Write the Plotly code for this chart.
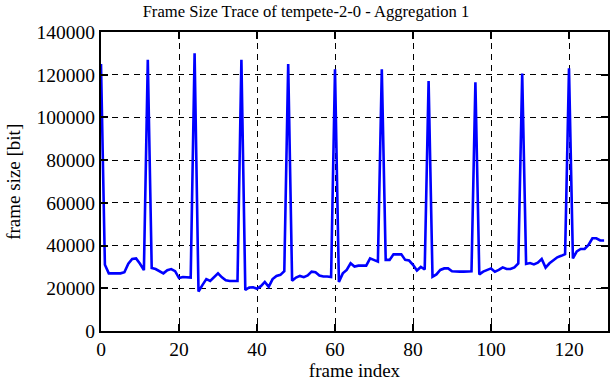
import plotly.graph_objects as go

frame_index = list(range(130))
frame_size_bits = [
    125000, 31000, 27000, 27000, 27000, 27000, 27500, 31500, 33700, 34000,
    31500, 28500, 127000, 29500, 29000, 28000, 27000, 28500, 29000, 28000,
    24800, 25300, 25300, 25000, 130000, 18500, 21500, 24300, 23400, 25000,
    27000, 25100, 23700, 23400, 23400, 23400, 127000, 19200, 20400, 20500,
    19800, 21000, 23000, 20700, 24300, 25800, 26300, 28000, 125000, 23500,
    25000, 25800, 25200, 26000, 27800, 27500, 26000, 25500, 25500, 25300,
    122500, 23000, 27000, 28600, 31700, 30200, 30600, 30600, 30600, 34000,
    33200, 32500, 122500, 33300, 33300, 35900, 35900, 35900, 33300, 33000,
    31000, 28300, 30000, 28800, 117000, 25400, 26500, 28600, 29300, 29300,
    28000, 27800, 27800, 27800, 28000, 28000, 116500, 26500, 27800, 28600,
    29300, 27800, 28600, 29800, 29000, 29000, 29800, 31600, 120500, 31400,
    31800, 31200, 32000, 33700, 29700, 31700, 32900, 34500, 35200, 36000,
    123000, 34000, 37300, 38400, 38400, 40300, 43400, 43400, 42400, 42400,
]
x_ticks = [0, 20, 40, 60, 80, 100, 120]
y_ticks = [0, 20000, 40000, 60000, 80000, 100000, 120000, 140000]

title_text = "Frame Size Trace of tempete-2-0 - Aggregation 1"
x_title = "frame index"
y_title = "frame size [bit]"

FONT = "Liberation Serif, Times New Roman, serif"

fig = go.Figure()
fig.add_trace(go.Scatter(
    x=frame_index, y=frame_size_bits, mode="lines",
    line=dict(color="#0000ff", width=2.6),
    showlegend=False,
))

axis_common = dict(
    showline=True, linecolor="black", linewidth=2,
    mirror="allticks", ticks="inside", ticklen=7, tickwidth=1.5, tickcolor="black",
    showgrid=True, gridcolor="black", gridwidth=1, griddash="6px,5px",
    zeroline=False,
    tickfont=dict(family=FONT, size=19.5, color="black"),
)

fig.update_layout(
    width=612, height=382,
    margin=dict(l=101, r=2, t=32, b=51),
    paper_bgcolor="white", plot_bgcolor="white",
    font=dict(family=FONT, color="black"),
    title=dict(text=title_text, x=0.5, xref="container", xanchor="center",
               y=1 - 11 / 382, yref="container", yanchor="middle",
               font=dict(family=FONT, size=16.6, color="black")),
    xaxis=dict(range=[0, 130], tickvals=x_ticks,
               title=dict(text=x_title, font=dict(family=FONT, size=19), standoff=4),
               **axis_common),
    yaxis=dict(range=[0, 140000], tickvals=y_ticks, tickformat="d",
               **axis_common),
    annotations=[dict(
        text=y_title, textangle=-90, showarrow=False,
        xref="paper", yref="paper", x=(13 - 101) / 509, y=0.5,
        xanchor="center", yanchor="middle",
        font=dict(family=FONT, size=19, color="black"),
    )],
)

fig.write_html(
    "out.html",
    config={"displayModeBar": False},
    post_script="document.body.style.margin='0';document.body.style.padding='0';document.body.style.overflow='hidden';",
)
